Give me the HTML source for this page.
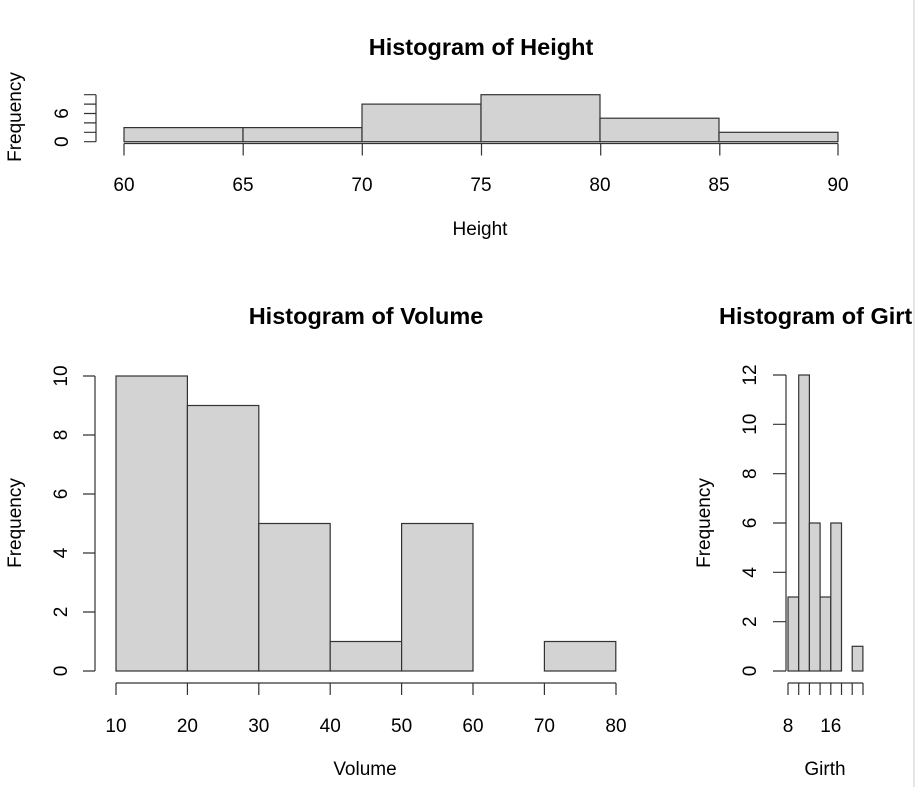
<!DOCTYPE html>
<html><head><style>body{margin:0;background:#fff}svg{display:block}text{font-family:"Liberation Sans",Arial,sans-serif;fill:#000}</style></head>
<body>
<svg width="919" height="787" xmlns="http://www.w3.org/2000/svg">
<line x1="914" y1="0" x2="914" y2="787" stroke="#ddd" stroke-width="1.5"/>
<g stroke="#333" stroke-width="1.2" fill="#d3d3d3">
<rect x="124" y="127.6" width="119" height="14.1"/>
<rect x="243" y="127.6" width="119" height="14.1"/>
<rect x="362" y="104.1" width="119" height="37.6"/>
<rect x="481" y="94.7" width="119" height="47"/>
<rect x="600" y="118.2" width="119" height="23.5"/>
<rect x="719" y="132.3" width="119" height="9.4"/>
<rect x="116" y="376" width="71.4" height="295"/>
<rect x="187.4" y="405.5" width="71.4" height="265.5"/>
<rect x="258.8" y="523.5" width="71.4" height="147.5"/>
<rect x="330.2" y="641.5" width="71.4" height="29.5"/>
<rect x="401.6" y="523.5" width="71.4" height="147.5"/>
<rect x="544.4" y="641.5" width="71.4" height="29.5"/>
<rect x="788" y="597" width="10.7" height="74"/>
<rect x="798.7" y="375" width="10.7" height="296"/>
<rect x="809.4" y="523" width="10.7" height="148"/>
<rect x="820.1" y="597" width="10.7" height="74"/>
<rect x="830.8" y="523" width="10.7" height="148"/>
<rect x="852.2" y="646.3" width="10.7" height="24.7"/>
</g>
<g stroke="#333" stroke-width="1.2" fill="none">
<path d="M124 143.5H838M124 143.5v12M243.2 143.5v12M362.3 143.5v12M481.5 143.5v12M600.7 143.5v12M719.8 143.5v12M838 143.5v12"/>
<path d="M96 94.7V141.7M84 141.7H96M84 132.3H96M84 122.9H96M84 113.5H96M84 104.1H96M84 94.7H96"/>
<path d="M116 683H616M116 683v12M187.4 683v12M258.8 683v12M330.2 683v12M401.6 683v12M473 683v12M544.4 683v12M616 683v12"/>
<path d="M95 376V671M83 671H95M83 612H95M83 553H95M83 494H95M83 435H95M83 376H95"/>
<path d="M788 683H863M788 683v12M798.7 683v12M809.4 683v12M820.1 683v12M830.8 683v12M841.5 683v12M852.2 683v12M863 683v12"/>
<path d="M786 375V671M773 671H786M773 621.7H786M773 572.3H786M773 523H786M773 473.7H786M773 424.3H786M773 375H786"/>
</g>
<g font-size="19">
<text x="481" y="55" text-anchor="middle" font-weight="bold" font-size="23.5">Histogram of Height</text>
<g text-anchor="middle">
<text x="124" y="191">60</text><text x="243" y="191">65</text><text x="362" y="191">70</text><text x="481" y="191">75</text><text x="600" y="191">80</text><text x="719" y="191">85</text><text x="838" y="191">90</text>
<text x="480" y="235">Height</text>
</g>
<text transform="translate(21,117) rotate(-90)" text-anchor="middle">Frequency</text>
<text transform="translate(68,141.7) rotate(-90)" text-anchor="middle">0</text>
<text transform="translate(68,113.5) rotate(-90)" text-anchor="middle">6</text>

<text x="366" y="324" text-anchor="middle" font-weight="bold" font-size="23.5">Histogram of Volume</text>
<g text-anchor="middle">
<text x="116" y="732">10</text><text x="187.4" y="732">20</text><text x="258.8" y="732">30</text><text x="330.2" y="732">40</text><text x="401.6" y="732">50</text><text x="473" y="732">60</text><text x="544.4" y="732">70</text><text x="616" y="732">80</text>
<text x="365" y="775">Volume</text>
</g>
<text transform="translate(21,523) rotate(-90)" text-anchor="middle">Frequency</text>
<g text-anchor="middle">
<text transform="translate(67,671) rotate(-90)">0</text><text transform="translate(67,612) rotate(-90)">2</text><text transform="translate(67,553) rotate(-90)">4</text><text transform="translate(67,494) rotate(-90)">6</text><text transform="translate(67,435) rotate(-90)">8</text><text transform="translate(67,376) rotate(-90)">10</text>
</g>

<text x="719" y="324" font-weight="bold" font-size="23.5">Histogram of Girt</text>
<g text-anchor="middle">
<text x="788" y="732">8</text><text x="830.8" y="732">16</text>
<text x="825" y="775">Girth</text>
</g>
<text transform="translate(710,523) rotate(-90)" text-anchor="middle">Frequency</text>
<g text-anchor="middle">
<text transform="translate(756,671) rotate(-90)">0</text><text transform="translate(756,621.7) rotate(-90)">2</text><text transform="translate(756,572.3) rotate(-90)">4</text><text transform="translate(756,523) rotate(-90)">6</text><text transform="translate(756,473.7) rotate(-90)">8</text><text transform="translate(756,424.3) rotate(-90)">10</text><text transform="translate(756,375) rotate(-90)">12</text>
</g>
</g>
<rect x="915" y="0" width="4" height="787" fill="#fff"/>
</svg>
</body></html>
